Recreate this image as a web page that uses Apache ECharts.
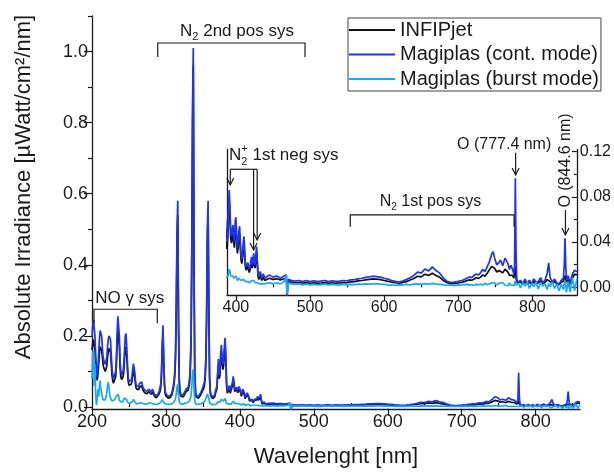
<!DOCTYPE html>
<html><head><meta charset="utf-8">
<script src="https://cdn.jsdelivr.net/npm/echarts@6/dist/echarts.min.js"></script>
<style>html,body{margin:0;padding:0;background:#fff}#c{width:614px;height:473px}</style>
</head><body><div id="c"></div>
<script>
// ---------------- DATA ----------------
const wavelength = [
200,201,202,203,204,205,206,207,208,209,
210,211,212,213,214,215,216,217,218,219,
220,221,222,223,224,225,226,227,228,229,
230,231,232,233,234,235,236,237,238,239,
240,241,242,243,244,245,246,247,248,249,
250,251,252,253,254,255,256,257,258,259,
260,261,262,263,264,265,266,267,268,269,
270,271,272,273,274,275,276,277,278,279,
280,281,282,283,284,285,286,287,288,289,
290,291,292,293,294,295,296,297,298,299,
300,301,302,303,304,305,306,307,308,309,
310,311,312,313,314,315,316,317,318,319,
320,321,322,323,324,325,326,327,328,329,
330,331,332,333,334,335,336,337,338,339,
340,341,342,343,344,345,346,347,348,349,
350,351,352,353,354,355,356,357,358,359,
360,361,362,363,364,365,366,367,368,369,
370,371,372,373,374,375,376,377,378,379,
380,381,382,383,384,385,386,387,388,389,
390,391,392,393,394,395,396,397,398,399,
400,401,402,403,404,405,406,407,408,409,
410,411,412,413,414,415,416,417,418,419,
420,421,422,423,424,425,426,427,428,429,
430,431,432,433,434,435,436,437,438,439,
440,
445,450,455,460,465,468,469,471,475,480,
485,490,495,500,505,510,515,520,525,530,
535,540,545,550,555,560,565,570,575,580,
585,590,595,600,605,610,615,620,625,630,
635,640,645,650,655,660,665,670,675,680,
685,690,695,700,703,706,709,712,715,718,
721,724,727,730,733,736,739,742,745,747,
749,752,755,757,760,763,765,767,769,771,
773,775,776,777,778,779,781,784,787,790,
793,796,799,802,805,808,811,814,817,820,
822,824,827,830,833,836,839,842,843,844,
845,846,848,851,854,857,860];

const infipjet = [
0.16,0.18,0.19,0.185,0.16,0.12,0.09,0.075,0.09,0.12,
0.15,0.17,0.175,0.16,0.14,0.12,0.11,0.105,0.1,0.105,
0.115,0.14,0.155,0.165,0.17,0.155,0.125,0.09,0.075,0.067,
0.064,0.067,0.085,0.12,0.18,0.215,0.22,0.17,0.11,0.085,
0.077,0.077,0.085,0.1,0.135,0.17,0.175,0.145,0.1,0.072,
0.061,0.058,0.06,0.064,0.072,0.09,0.104,0.1,0.08,0.06,
0.051,0.047,0.047,0.049,0.055,0.06,0.058,0.06,0.056,0.047,
0.042,0.041,0.038,0.037,0.037,0.039,0.041,0.043,0.044,0.041,
0.036,0.038,0.042,0.039,0.032,0.029,0.027,0.026,0.027,0.03,
0.034,0.038,0.043,0.056,0.088,0.16,0.205,0.125,0.06,0.038,
0.031,0.029,0.027,0.025,0.024,0.025,0.027,0.03,0.034,0.043,
0.052,0.065,0.088,0.14,0.27,0.46,0.54,0.23,0.07,0.039,
0.031,0.028,0.027,0.028,0.031,0.034,0.039,0.043,0.039,0.043,
0.047,0.056,0.07,0.105,0.18,0.42,0.8,0.96,0.37,0.09,
0.039,0.028,0.025,0.024,0.025,0.027,0.03,0.034,0.039,0.043,
0.048,0.052,0.06,0.078,0.125,0.24,0.46,0.55,0.28,0.08,
0.039,0.03,0.026,0.024,0.024,0.026,0.029,0.039,0.035,0.052,
0.088,0.12,0.08,0.088,0.135,0.155,0.125,0.105,0.115,0.15,
0.172,0.13,0.06,0.039,0.034,0.043,0.052,0.039,0.034,0.043,
0.062,0.078,0.063,0.044,0.039,0.044,0.049,0.04,0.035,0.051,
0.056,0.04,0.03,0.035,0.044,0.048,0.035,0.024,0.021,0.026,
0.035,0.04,0.026,0.017,0.015,0.017,0.019,0.018,0.013,0.015,
0.019,0.023,0.017,0.02,0.026,0.019,0.017,0.026,0.031,0.019,
0.009,0.007,0.009,0.011,0.008,0.006,0.007,0.009,0.008,0.006,
0.006,
0.008,0.007,0.0075,0.0065,0.0075,0.008,0.001,0.005,0.0045,0.004,
0.0042,0.0038,0.0042,0.0036,0.004,0.0035,0.0038,0.0042,0.0036,0.004,
0.0036,0.0038,0.0042,0.0042,0.0048,0.005,0.0056,0.006,0.0066,0.007,
0.0074,0.0072,0.0068,0.006,0.0053,0.0045,0.004,0.0036,0.0042,0.005,
0.0064,0.0078,0.0098,0.0092,0.0115,0.0105,0.0124,0.0105,0.0088,0.006,
0.004,0.0032,0.0034,0.0038,0.0042,0.0046,0.0052,0.006,0.0066,0.0062,
0.0072,0.0084,0.0078,0.009,0.011,0.0098,0.0125,0.0155,0.0185,0.0197,
0.0168,0.0135,0.0148,0.0155,0.0128,0.016,0.0165,0.0135,0.0108,0.0125,
0.0105,0.0082,0.009,0.018,0.008,0.0045,0.0035,0.0045,0.0025,0.005,
0.003,0.0045,0.0022,0.0052,0.0032,0.0038,0.0058,0.003,0.0045,0.0068,
0.0085,0.005,0.0035,0.005,0.003,0.0022,0.0045,0.0058,0.008,0.0105,
0.0075,0.0045,0.0068,0.0032,0.0082,0.0115,0.011];

const magiplasCont = [
0.20,0.23,0.245,0.24,0.20,0.15,0.10,0.085,0.11,0.15,
0.19,0.215,0.22,0.20,0.17,0.14,0.13,0.125,0.12,0.125,
0.14,0.17,0.19,0.20,0.205,0.19,0.15,0.11,0.09,0.08,
0.076,0.08,0.10,0.14,0.21,0.255,0.26,0.20,0.13,0.10,
0.09,0.09,0.10,0.12,0.16,0.20,0.207,0.17,0.12,0.085,
0.072,0.068,0.07,0.075,0.085,0.105,0.122,0.118,0.095,0.07,
0.06,0.055,0.055,0.058,0.065,0.07,0.068,0.071,0.066,0.055,
0.05,0.048,0.045,0.043,0.044,0.046,0.048,0.05,0.052,0.048,
0.042,0.045,0.05,0.046,0.038,0.034,0.032,0.031,0.032,0.035,
0.04,0.045,0.05,0.065,0.1,0.18,0.23,0.14,0.07,0.045,
0.037,0.034,0.032,0.03,0.029,0.03,0.032,0.035,0.04,0.05,
0.06,0.075,0.1,0.16,0.3,0.5,0.58,0.25,0.08,0.045,
0.036,0.033,0.032,0.033,0.036,0.04,0.045,0.05,0.045,0.05,
0.055,0.065,0.08,0.12,0.2,0.45,0.85,1.01,0.4,0.1,
0.045,0.033,0.03,0.029,0.03,0.032,0.035,0.04,0.045,0.05,
0.056,0.06,0.07,0.09,0.14,0.26,0.5,0.58,0.3,0.09,
0.045,0.035,0.03,0.028,0.028,0.03,0.034,0.045,0.04,0.06,
0.1,0.135,0.09,0.1,0.15,0.175,0.14,0.12,0.13,0.17,
0.195,0.15,0.07,0.045,0.04,0.05,0.06,0.045,0.04,0.05,
0.07,0.086,0.07,0.05,0.045,0.05,0.055,0.045,0.04,0.058,
0.062,0.045,0.035,0.04,0.05,0.054,0.04,0.028,0.025,0.03,
0.04,0.045,0.03,0.02,0.018,0.02,0.022,0.021,0.016,0.018,
0.022,0.027,0.02,0.024,0.03,0.022,0.02,0.03,0.036,0.022,
0.011,0.009,0.012,0.014,0.01,0.008,0.009,0.012,0.01,0.008,
0.0075,
0.011,0.009,0.01,0.008,0.01,0.011,-0.009,0.007,0.006,0.0055,
0.006,0.005,0.006,0.005,0.0058,0.005,0.0055,0.006,0.005,0.0058,
0.0052,0.0055,0.006,0.0058,0.0065,0.0068,0.0075,0.008,0.0088,0.0092,
0.0098,0.0094,0.009,0.008,0.0072,0.006,0.0052,0.0047,0.0055,0.0068,
0.0085,0.0105,0.0135,0.0125,0.0162,0.0145,0.018,0.0148,0.0125,0.0082,
0.0052,0.0042,0.0045,0.0052,0.0058,0.0062,0.0072,0.0082,0.0092,0.0085,
0.0102,0.0118,0.0108,0.0128,0.0158,0.0138,0.018,0.0225,0.029,0.0315,
0.026,0.0198,0.022,0.0242,0.019,0.0258,0.0268,0.021,0.0158,0.0195,
0.0162,0.0118,0.02,0.0965,0.028,0.0065,0.0045,0.0062,0.003,0.0072,
0.0038,0.0062,0.0028,0.0075,0.0042,0.0052,0.0085,0.004,0.0062,0.0125,
0.0215,0.0082,0.0048,0.0072,0.0038,0.0028,0.0062,0.0085,0.02,0.0434,
0.02,0.0062,0.0102,0.004,0.0118,0.0152,0.0138];

const magiplasBurst = [
0.08,0.15,0.16,0.06,0.12,0.035,0.005,0.02,0.05,0.03,
0.06,0.075,0.05,0.045,0.03,0.02,0.018,0.015,0.02,0.028,
0.04,0.06,0.07,0.055,0.035,0.025,0.02,0.017,0.015,0.016,
0.02,0.022,0.025,0.03,0.035,0.036,0.03,0.02,0.016,0.014,
0.013,0.014,0.016,0.02,0.026,0.03,0.028,0.02,0.014,0.011,
0.01,0.01,0.011,0.012,0.014,0.018,0.021,0.02,0.015,0.011,
0.009,0.009,0.009,0.01,0.012,0.013,0.012,0.014,0.012,0.01,
0.009,0.009,0.008,0.008,0.008,0.009,0.01,0.011,0.012,0.01,
0.009,0.01,0.011,0.01,0.008,0.007,0.007,0.007,0.007,0.008,
0.009,0.01,0.011,0.013,0.017,0.021,0.023,0.016,0.01,0.008,
0.008,0.008,0.007,0.007,0.007,0.007,0.008,0.008,0.009,0.01,
0.012,0.014,0.018,0.025,0.038,0.056,0.064,0.035,0.015,0.01,
0.008,0.008,0.008,0.008,0.009,0.01,0.011,0.012,0.011,0.012,
0.013,0.015,0.018,0.022,0.032,0.06,0.095,0.106,0.05,0.016,
0.009,0.008,0.007,0.007,0.007,0.008,0.008,0.009,0.01,0.011,
0.012,0.013,0.015,0.018,0.023,0.03,0.037,0.04,0.025,0.012,
0.008,0.007,0.007,0.006,0.006,0.007,0.007,0.009,0.008,0.01,
0.014,0.017,0.013,0.014,0.019,0.021,0.018,0.016,0.017,0.021,
0.024,0.018,0.01,0.008,0.007,0.008,0.009,0.008,0.008,0.009,
0.012,0.016,0.014,0.01,0.009,0.009,0.01,0.008,0.008,0.009,
0.01,0.008,0.006,0.007,0.008,0.009,0.007,0.006,0.005,0.006,
0.007,0.008,0.006,0.005,0.004,0.005,0.005,0.005,0.004,0.004,
0.005,0.006,0.005,0.005,0.006,0.005,0.004,0.004,0.005,0.004,
0.003,0.004,0.003,0.004,0.003,0.003,0.004,0.003,0.003,0.003,
0.003,
0.004,0.003,0.004,0.003,0.005,0.011,-0.006,0.004,0.003,0.0025,
0.003,0.0022,0.0028,0.002,0.0026,0.002,0.0024,0.0028,0.002,0.0026,
0.0022,0.002,0.0025,0.0022,0.0026,0.0024,0.0028,0.0025,0.003,0.0028,
0.003,0.0032,0.0028,0.0025,0.0022,0.002,0.0018,0.0022,0.002,0.0025,
0.0022,0.0028,0.003,0.0026,0.0032,0.0028,0.0034,0.0028,0.0025,0.0022,
0.0018,0.002,0.0015,0.0022,0.0018,0.0025,0.002,0.0028,0.0018,0.0025,
0.0015,0.0028,0.002,0.003,0.0018,0.0035,0.0022,0.003,0.004,0.0025,
0.0038,0.0022,0.0035,0.002,0.0042,0.0018,0.0032,0.0015,0.0038,0.002,
0.0028,0.0015,0.003,0.0055,0.002,0.0008,0.0035,-0.0005,0.004,0.001,
0.005,-0.001,0.0035,0.0005,0.0045,-0.0015,0.004,0.001,0.003,-0.002,
0.0035,0.0005,0.0048,-0.001,0.003,-0.003,0.0025,-0.002,0.004,0.006,
0.001,-0.0045,0.005,-0.004,0.0085,-0.003,0.0075];

const seriesNames = ['INFIPjet', 'Magiplas (cont. mode)', 'Magiplas (burst mode)'];
const mainXLabels = [200, 300, 400, 500, 600, 700, 800];
const mainXMinor = [250, 350, 450, 550, 650, 750, 850];
const mainYLabels = [0, 0.2, 0.4, 0.6, 0.8, 1.0];
const mainYMinor = [0.1, 0.3, 0.5, 0.7, 0.9, 1.1];
const insetXLabels = [400, 500, 600, 700, 800];
const insetXMinor = [450, 550, 650, 750, 850];
const insetYLabels = [0, 0.04, 0.08, 0.12];
const insetYMinor = [0.02, 0.06, 0.10];

// ---------------- CHART ----------------
const FONT = '"Liberation Sans", Arial, sans-serif';
const INK = '#1a1a1a';
const colors = ['#111111', '#1f33f2', '#19a9ef'];
const allSeries = [infipjet, magiplasCont, magiplasBurst];
const pairs = allSeries.map(arr => wavelength.map((w, i) => [w, arr[i]]));

function tickAxis(extra) {
  return Object.assign({
    type: 'value', splitLine: { show: false },
    axisLine: { show: true, onZero: false, lineStyle: { color: INK, width: 1.3 } },
    axisTick: { show: true, lineStyle: { color: INK, width: 1.2 } },
    axisLabel: { show: true, color: INK, fontFamily: FONT }
  }, extra);
}

const chart = echarts.init(document.getElementById('c'), null, { renderer: 'canvas' });

const option = {
  animation: false,
  backgroundColor: '#fff',
  color: colors,
  grid: [
    { left: 92, top: 16, width: 488, height: 392.8 },
    { left: 227, top: 149.4, width: 351, height: 145.8 }
  ],
  xAxis: [
    tickAxis({ gridIndex: 0, min: 200, max: 860,
      axisTick: { customValues: mainXLabels, length: 7, lineStyle: { color: INK, width: 1.2 } },
      axisLabel: { customValues: mainXLabels, fontSize: 18, margin: 4, color: INK, fontFamily: FONT },
      name: 'Wavelenght [nm]', nameLocation: 'middle', nameGap: 37,
      nameTextStyle: { fontSize: 22, color: INK, fontFamily: FONT } }),
    tickAxis({ gridIndex: 0, min: 200, max: 860, axisLine: { show: false },
      axisTick: { customValues: mainXMinor, length: 4, lineStyle: { color: INK, width: 1.2 } },
      axisLabel: { show: false } }),
    tickAxis({ gridIndex: 1, min: 388, max: 860,
      axisTick: { customValues: insetXLabels, length: 5, lineStyle: { color: INK, width: 1.2 } },
      axisLabel: { customValues: insetXLabels, fontSize: 16, margin: 4, color: INK, fontFamily: FONT } }),
    tickAxis({ gridIndex: 1, min: 388, max: 860, axisLine: { show: false },
      axisTick: { customValues: insetXMinor, length: 3, lineStyle: { color: INK, width: 1.2 } },
      axisLabel: { show: false } })
  ],
  yAxis: [
    tickAxis({ gridIndex: 0, min: -0.005, max: 1.1, position: 'left',
      axisTick: { customValues: mainYLabels, length: 8, lineStyle: { color: INK, width: 1.2 } },
      axisLabel: { customValues: mainYLabels, fontSize: 18, margin: 4, color: INK, fontFamily: FONT,
        formatter: v => v.toFixed(1) } }),
    tickAxis({ gridIndex: 0, min: -0.005, max: 1.1, position: 'left', axisLine: { show: false },
      axisTick: { customValues: mainYMinor, length: 4, lineStyle: { color: INK, width: 1.2 } },
      axisLabel: { show: false } }),
    tickAxis({ gridIndex: 1, min: -0.007, max: 0.122, position: 'right',
      axisTick: { customValues: insetYLabels, length: 5, inside: true, lineStyle: { color: INK, width: 1.2 } },
      axisLabel: { customValues: insetYLabels, fontSize: 16, margin: 3, color: INK, fontFamily: FONT,
        formatter: v => v.toFixed(2) } }),
    tickAxis({ gridIndex: 1, min: -0.007, max: 0.122, position: 'right', axisLine: { show: false },
      axisTick: { customValues: insetYMinor, length: 3, inside: true, lineStyle: { color: INK, width: 1.2 } },
      axisLabel: { show: false } }),
    tickAxis({ gridIndex: 1, min: -0.007, max: 0.122, position: 'left',
      axisTick: { show: false }, axisLabel: { show: false } })
  ],
  legend: {
    data: seriesNames, orient: 'vertical', left: 348, top: 18,
    icon: 'rect', itemWidth: 46, itemHeight: 2, itemGap: 4.5,
    padding: [2, 2, 2, 1], borderColor: '#444', borderWidth: 1, backgroundColor: '#fff',
    textStyle: { fontSize: 20, color: INK, fontFamily: FONT }
  },
  series: []
};

[0, 2].forEach(gi => {
  seriesNames.forEach((name, k) => {
    option.series.push({
      name: name, type: 'line', xAxisIndex: gi, yAxisIndex: gi,
      data: pairs[k], symbol: 'none', clip: true,
      lineStyle: { color: colors[k], width: 1.7 },
      itemStyle: { color: colors[k] }, z: 2 + k
    });
  });
});

chart.setOption(option);

// ---------------- ANNOTATIONS ----------------
const P0 = (x, y) => chart.convertToPixel({ xAxisIndex: 0, yAxisIndex: 0 }, [x, y]);
const P1 = (x, y) => chart.convertToPixel({ xAxisIndex: 2, yAxisIndex: 2 }, [x, y]);

const mctx = document.createElement('canvas').getContext('2d');
function tw(s, size) { mctx.font = size + 'px ' + FONT; return mctx.measureText(s).width; }

const g = [];
const lineStyle = { stroke: INK, lineWidth: 1.2, fill: null };
function poly(pts) { g.push({ type: 'polyline', shape: { points: pts }, style: lineStyle, z: 100 }); }
function bracket(P, x1, x2, yTop, yBot) {
  poly([P(x1, yBot), P(x1, yTop), P(x2, yTop), P(x2, yBot)]);
}
function arrow(P, x, yFrom, yTo) {
  const a = P(x, yFrom), t = P(x, yTo);
  poly([a, t]);
  poly([[t[0] - 3.5, t[1] - 7], t, [t[0] + 3.5, t[1] - 7]]);
}
function text(str, px, py, size, align, rotation) {
  g.push({ type: 'text', x: px, y: py, rotation: rotation || 0, z: 100,
    style: { text: str, fontSize: size, fontFamily: FONT, fill: INK, align: align || 'left', verticalAlign: 'middle' } });
}
function molLabel(pos, size, sub, sup, rest, align) {
  const small = Math.round(size * 0.62);
  const wN = tw('N', size), wS = Math.max(tw(sub, small), sup ? tw(sup, small) : 0), wR = tw(rest, size);
  const total = wN + wS + wR;
  const x = pos[0] - (align === 'center' ? total / 2 : 0);
  const y = pos[1];
  text('N', x, y, size, 'left');
  text(sub, x + wN, y + size * 0.38, small, 'left');
  if (sup) text(sup, x + wN, y - size * 0.34, small, 'left');
  text(rest, x + wN + wS, y, size, 'left');
}

// main plot annotations
bracket(P0, 288.9, 488.1, 1.024, 0.985);
molLabel(P0(396.1, 1.058), 17, '2', null, ' 2nd pos sys', 'center');
bracket(P0, 202.7, 288.3, 0.275, 0.2356);
const noPos = P0(204.5, 0.306);
text('NO \u03b3 sys', noPos[0], noPos[1], 17, 'left');

// inset annotations
molLabel(P1(390.7, 0.117), 17, '2', '+', ' 1st neg sys', 'left');
poly([P1(392.4, 0.1044), P1(428.7, 0.1044)]);
arrow(P1, 392.4, 0.1044, 0.0905);
arrow(P1, 423.9, 0.1044, 0.033);
arrow(P1, 428.7, 0.1044, 0.0419);

bracket(P1, 554.3, 775.3, 0.064, 0.0536);
molLabel(P1(662.6, 0.0758), 16, '2', null, ' 1st pos sys', 'center');

const o1 = P1(761.9, 0.126);
text('O (777.4 nm)', o1[0], o1[1], 16, 'center');
arrow(P1, 777.4, 0.1191, 0.0994);

arrow(P1, 844.6, 0.0684, 0.0463);
const o2 = P1(844.6, 0.1122);
text('O (844.6 nm)', o2[0], o2[1], 16, 'center', Math.PI / 2);

// y-axis title
g.push({ type: 'text', x: 24, y: 187, rotation: Math.PI / 2, z: 100,
  style: { text: 'Absolute Irradiance [\u00b5Watt/cm\u00b2/nm]', fontSize: 22, fontFamily: FONT, fill: INK,
    align: 'center', verticalAlign: 'middle' } });

chart.setOption({ graphic: g });
</script>
</body></html>
